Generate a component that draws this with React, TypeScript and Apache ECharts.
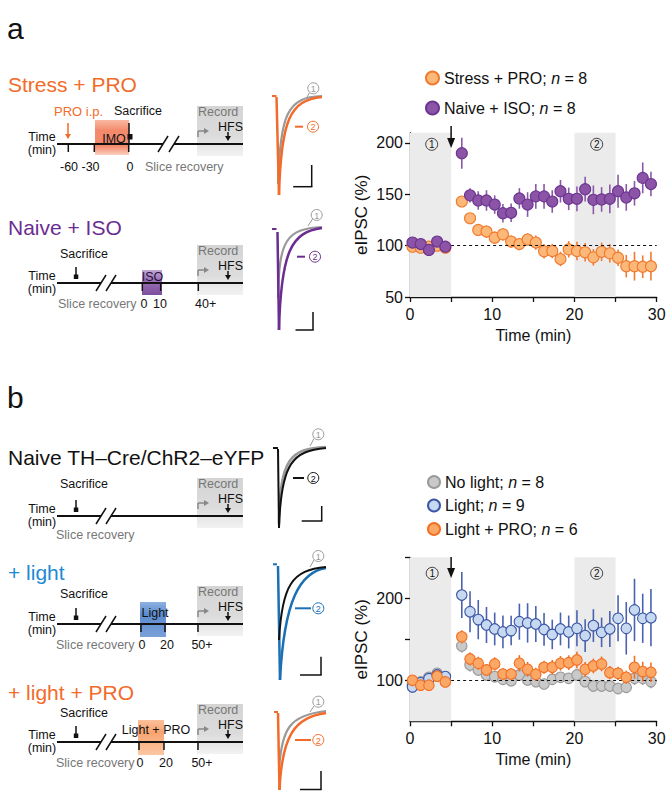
import React, { useEffect, useRef } from "react";
import * as echarts from "echarts";

const FONT = '"Liberation Sans", Arial, Helvetica, sans-serif';

// time (min) of each averaged point
const timeMin = [0.3, 1.3, 2.3, 3.3, 4.3, 6.3, 7.3, 8.3, 9.3, 10.3, 11.3, 12.3, 13.3, 14.3, 15.3, 16.3, 17.3, 18.3, 19.3, 20.3, 21.3, 22.3, 23.3, 24.3, 25.3, 26.3, 27.3, 28.3, 29.3];

// panel a
const namesA = ["Stress + PRO", "Naive + ISO"];
const nA = [8, 8];
const stressPro = [99, 98, 99, 100, 98, 143, 126.7, 115.3, 113.7, 107.8, 111, 104, 101.6, 106, 103, 94.5, 94.8, 87, 96.4, 94.8, 93.5, 88.6, 94, 92.5, 88.3, 80, 80, 79.5, 80];
const stressProErr = [3, 3, 3, 3, 3, 4, 5, 5, 6, 6, 6, 6, 6, 6, 7, 7, 7, 7, 8, 9, 9, 8, 9, 9, 8, 11, 14, 11, 14];
const naiveIso = [103, 101.6, 95.8, 104, 99, 190, 149, 144, 144, 140, 131.6, 132, 146, 140, 148, 148, 143, 153, 145.6, 145.6, 155, 144.6, 145, 145.6, 153, 147, 151, 166, 160];
const naiveIsoErr = [4, 4, 4, 4, 4, 15, 7, 9, 10, 9, 9, 9, 10, 12, 12, 12, 11, 11, 11, 12, 12, 14, 12, 14, 16, 13, 12, 15, 12];

// panel b
const namesB = ["No light", "Light", "Light + PRO"];
const nB = [8, 9, 6];
const noLight = [95, 98, 103.7, 108.5, 100, 141.9, 118.7, 112.6, 106.5, 104.5, 101.2, 99.6, 106.5, 100.4, 98.4, 95.5, 101.2, 103.7, 102.4, 106.5, 98.4, 93, 93, 93, 90, 91.5, 102.4, 102.4, 98.4];
const noLightErr = [4, 4, 4, 4, 4, 8, 8, 7, 7, 7, 6, 7, 7, 6, 6, 6, 6, 6, 6, 6, 6, 6, 7, 7, 7, 7, 8, 8, 8];
const light = [92, 97, 102, 106.5, 104.5, 204, 183.7, 174, 167.5, 162.6, 159, 160.6, 171.5, 170, 168.7, 162, 156, 162.6, 159, 163.4, 154.5, 166.7, 158.5, 162.6, 175.6, 163.4, 185.8, 175.6, 176.4];
const lightErr = [6, 5, 5, 5, 5, 28, 25, 24, 22, 20, 20, 18, 22, 24, 22, 20, 18, 20, 20, 22, 20, 20, 18, 22, 28, 32, 38, 30, 35];
const lightPro = [100, 94, 94, 105, 98, 153, 126, 120.7, 112.6, 120, 107.7, 107.7, 120.7, 113.4, 107.3, 115.9, 115.9, 120.7, 121.5, 124.8, 113.4, 117.5, 120, 109.3, 108.5, 103.7, 115.9, 110.6, 109.8];
const lightProErr = [4, 4, 4, 4, 4, 8, 8, 8, 7, 8, 7, 7, 10, 9, 8, 8, 9, 9, 9, 10, 9, 9, 9, 8, 8, 8, 14, 12, 12];

// axes
const xTickLabels = [0, 10, 20, 30];
const yTicksA = [50, 100, 150, 200];
const yTickLabelsA = [50, 100, 150, 200];
const yTicksB = [100, 150, 200, 250];
const yTickLabelsB = [100, 200];
const shadeWindows = [[0, 5], [20, 25]];
const hfsTime = 5;
const baseline = 100;

const ORANGE = "#f26b2b";
const PURPLE = "#6b2d90";
const BLUE = "#1f8ad3";
const GRAY = "#999999";

const styles: Record<string, { fill: string; border: string; err: string }> = {
  "Stress + PRO": { fill: "#fcb878", border: "#f07a30", err: "#f07a30" },
  "Naive + ISO": { fill: "#8c54a6", border: "#6b3590", err: "#8a5aa8" },
  "No light": { fill: "#c9c9c9", border: "#9a9a9a", err: "#9a9a9a" },
  "Light": { fill: "#c6d9f1", border: "#3b55a6", err: "#4a62b0" },
  "Light + PRO": { fill: "#fba766", border: "#f27024", err: "#f27024" },
};

function errSeries(name: string, vals: number[], errs: number[], g: number, z: number) {
  const color = styles[name].err;
  return {
    type: "custom",
    name: name + " SEM",
    xAxisIndex: g,
    yAxisIndex: g,
    silent: true,
    z,
    data: timeMin.map((t, i) => [t, vals[i] - errs[i], vals[i] + errs[i]]),
    encode: { x: 0, y: [1, 2] },
    renderItem: (_p: any, api: any) => {
      const a = api.coord([api.value(0), api.value(1)]);
      const b = api.coord([api.value(0), api.value(2)]);
      return {
        type: "line",
        shape: { x1: a[0], y1: a[1], x2: b[0], y2: b[1] },
        style: { stroke: color, lineWidth: 1.6 },
      };
    },
  };
}

function dotSeries(name: string, vals: number[], g: number, z: number, size: number) {
  const s = styles[name];
  return {
    type: "scatter",
    name,
    xAxisIndex: g,
    yAxisIndex: g,
    z,
    symbol: "circle",
    symbolSize: size,
    itemStyle: { color: s.fill, borderColor: s.border, borderWidth: 1.1, opacity: 1 },
    data: timeMin.map((t, i) => [t, vals[i]]),
  };
}

function markerSeries(g: number) {
  return [
    {
      type: "scatter",
      xAxisIndex: g,
      yAxisIndex: g,
      data: [],
      silent: true,
      z: 0,
      markArea: {
        silent: true,
        itemStyle: { color: "#ebebeb" },
        data: shadeWindows.map(([a, b]) => [{ xAxis: a }, { xAxis: b }]),
      },
    },
    {
      type: "scatter",
      xAxisIndex: g,
      yAxisIndex: g,
      data: [],
      silent: true,
      z: 1,
      markLine: {
        silent: true,
        symbol: ["none", "none"],
        label: { show: false },
        lineStyle: { color: "#111", type: [3, 3], width: 1 },
        data: [[{ coord: [hfsTime, baseline] }, { coord: [30, baseline] }]],
      },
    },
  ];
}

const axisText = { fontSize: 16, color: "#111", fontFamily: FONT };

function xAxis(g: number) {
  return {
    gridIndex: g,
    type: "value",
    min: 0,
    max: 30,
    interval: 5,
    name: "Time (min)",
    nameLocation: "middle",
    nameGap: 30,
    nameTextStyle: axisText,
    axisLine: { onZero: false, lineStyle: { color: "#111", width: 1.3 } },
    axisTick: { length: 5, lineStyle: { color: "#111", width: 1.3 } },
    axisLabel: { ...axisText, margin: 9, formatter: (v: number) => (xTickLabels.includes(v) ? String(v) : "") },
    splitLine: { show: false },
  };
}

function yAxis(g: number, min: number, max: number, ticks: number[], labels: number[]) {
  return {
    gridIndex: g,
    type: "value",
    min,
    max,
    interval: 50,
    name: "eIPSC (%)",
    nameLocation: "middle",
    nameGap: 40,
    nameTextStyle: { ...axisText, fontSize: 17 },
    axisLine: { show: true, onZero: false, lineStyle: { color: "#111", width: 1.3 } },
    axisTick: { show: true, length: 5, customValues: ticks, lineStyle: { color: "#111", width: 1.3 } },
    axisLabel: { ...axisText, margin: 7, customValues: labels },
    splitLine: { show: false },
  };
}

function legend(names: string[], ns: number[], left: number, top: number, gap: number, icon: number) {
  const map: Record<string, number> = {};
  names.forEach((n, i) => (map[n] = ns[i]));
  return {
    orient: "vertical",
    left,
    top,
    padding: 0,
    itemGap: gap,
    itemWidth: icon,
    itemHeight: icon,
    icon: "circle",
    data: names,
    selectedMode: false,
    formatter: (name: string) => `${name}; {i|n} = ${map[name]}`,
    textStyle: {
      fontSize: 16,
      color: "#111",
      fontFamily: FONT,
      rich: { i: { fontStyle: "italic", fontSize: 16, color: "#111", fontFamily: FONT } },
    },
  };
}

const option: any = {
  animation: false,
  backgroundColor: "#ffffff",
  grid: [
    { left: 410, top: 132.7, width: 246.7, height: 164.3 },
    { left: 410, top: 557.3, width: 246.7, height: 164 },
  ],
  xAxis: [xAxis(0), xAxis(1)],
  yAxis: [yAxis(0, 50, 210, yTicksA, yTickLabelsA), yAxis(1, 50, 250, yTicksB, yTickLabelsB)],
  legend: [legend(namesA, nA, 425, 70, 14, 13), legend(namesB, nB, 427, 474, 7.5, 12)],
  series: [
    ...markerSeries(0),
    errSeries("Stress + PRO", stressPro, stressProErr, 0, 2),
    dotSeries("Stress + PRO", stressPro, 0, 3, 11),
    errSeries("Naive + ISO", naiveIso, naiveIsoErr, 0, 4),
    dotSeries("Naive + ISO", naiveIso, 0, 5, 11),
    ...markerSeries(1),
    errSeries("No light", noLight, noLightErr, 1, 2),
    dotSeries("No light", noLight, 1, 3, 10.5),
    errSeries("Light", light, lightErr, 1, 4),
    dotSeries("Light", light, 1, 5, 10.5),
    errSeries("Light + PRO", lightPro, lightProErr, 1, 6),
    dotSeries("Light + PRO", lightPro, 1, 7, 10.5),
  ],
};

// ---------- graphic helpers ----------
const L = (x1: number, y1: number, x2: number, y2: number, stroke = "#111", lw = 1.5, z = 5) => ({
  type: "line", shape: { x1, y1, x2, y2 }, style: { stroke, lineWidth: lw }, z, silent: true,
});
const T = (x: number, y: number, text: string, o: any = {}) => ({
  type: "text", x, y, z: o.z || 7, silent: true,
  style: { text, fill: o.fill || "#111", fontSize: o.size || 12.5, fontFamily: FONT, align: o.align || "left", verticalAlign: "middle" },
});
const R = (x: number, y: number, w: number, h: number, fill: any, z = 1) => ({
  type: "rect", shape: { x, y, width: w, height: h }, style: { fill }, z, silent: true,
});
const P = (points: number[][], fill: string, z = 6) => ({ type: "polygon", shape: { points }, style: { fill }, z, silent: true });
const B = (x1: number, y1: number, cpx1: number, cpy1: number, cpx2: number, cpy2: number, x2: number, y2: number, stroke: string, lw = 2.3, z = 5) => ({
  type: "bezierCurve", shape: { x1, y1, x2, y2, cpx1, cpy1, cpx2, cpy2 }, style: { stroke, lineWidth: lw, fill: null }, z, silent: true,
});
const circled = (cx: number, cy: number, d: string, color: string) => [
  { type: "circle", shape: { cx, cy, r: 5.5 }, style: { stroke: color, fill: "#fff", lineWidth: 1 }, z: 8, silent: true },
  T(cx, cy + 0.5, d, { align: "center", size: 9, fill: color, z: 9 }),
];
const grad = (stops: [number, string][]) =>
  new echarts.graphic.LinearGradient(0, 0, 0, 1, stops.map(([offset, color]) => ({ offset, color })));
const downArrow = (x: number, y1: number, y2: number, color: string) => [
  L(x, y1, x, y2 - 4, color, 1.5),
  P([[x - 3, y2 - 5], [x + 3, y2 - 5], [x, y2]], color),
];
const bent = (yT: number) => [
  L(198, yT - 7, 198, yT - 13, "#888", 1.5),
  L(198, yT - 13, 204, yT - 13, "#888", 1.5),
  P([[204, yT - 16], [209, yT - 13], [204, yT - 10]], "#888"),
];
const record = (yT: number) => [
  R(197, yT - 38, 46, 50, grad([[0, "#d4d4d4"], [0.6, "#dcdcdc"], [1, "#f2f2f2"]])),
  T(198, yT - 32, "Record", { fill: "#777" }),
  T(243, yT - 17, "HFS", { align: "right" }),
  ...downArrow(228, yT - 12, yT - 3, "#111"),
  ...bent(yT),
];
const timeline = (yT: number, c1: number, c2: number) => [
  L(57, yT, c1, yT, "#111", 2),
  L(c2, yT, 243, yT, "#111", 2),
  L(c1 - 5, yT + 8, c1 + 5, yT - 8, "#111", 1.5),
  L(c2 - 5, yT + 8, c2 + 5, yT - 8, "#111", 1.5),
  T(42, yT - 7, "Time", { align: "center" }),
  T(42, yT + 6, "(min)", { align: "center" }),
];
const tick = (x: number, yT: number) => L(x, yT, x, yT + 8, "#111", 1.5);
const sacrifice = (yT: number, ty: number) => [
  T(84, ty, "Sacrifice", { align: "center" }),
  L(76, yT - 16, 76, yT - 6, "#111", 1.5),
  R(73.8, yT - 8.5, 4.5, 4.5, "#111", 6),
];
const scaleBar = (x: number, y1: number, y2: number, w: number) => [
  L(x, y1, x, y2, "#111", 1.5),
  L(x - w, y2, x + 0.7, y2, "#111", 1.5),
];

function schematics(): any[] {
  const out: any[] = [];
  out.push(T(7, 28, "a", { size: 30 }), T(7, 397, "b", { size: 30 }));

  // ---- a1: Stress + PRO ----
  {
    const yT = 144;
    out.push(T(8, 84, "Stress + PRO", { size: 21, fill: ORANGE }));
    out.push(T(54, 111, "PRO i.p.", { fill: ORANGE, size: 13 }), ...downArrow(68, 123, 139, ORANGE));
    out.push(T(138, 111, "Sacrifice", { align: "center" }), L(129, 123, 129, yT, "#111", 1.5), R(127.5, 134, 5, 5.5, "#111", 6));
    out.push(R(95, 120, 34, 35, grad([[0, "#f9b9a3"], [0.3, "#f48a6c"], [0.75, "#f48a6c"], [1, "#fbd0c2"]])));
    out.push(T(114, 139, "IMO", { align: "center" }));
    out.push(...timeline(yT, 163, 174));
    out.push(tick(68.3, yT), tick(94.3, yT), tick(128.7, yT));
    out.push(T(69, 167, "-60", { align: "center" }), T(90.5, 167, "-30", { align: "center" }), T(130, 167, "0", { align: "center" }));
    out.push(T(145, 167, "Slice recovery", { fill: "#777" }));
    out.push(...record(yT));
    out.push(L(272, 96, 276.5, 96, ORANGE, 2));
    out.push(B(278, 184, 280, 115, 287, 97, 322, 96, GRAY, 2.2, 4));
    out.push(L(276.5, 97, 279, 195, ORANGE, 2.5), B(279, 195, 281, 120, 290, 100, 322, 97, ORANGE, 2.5));
    out.push(...circled(313.3, 88.3, "1", GRAY), L(309.5, 92.5, 306, 99, GRAY, 1));
    out.push(L(295, 126.7, 303, 126.7, ORANGE, 2), ...circled(313, 126.7, "2", ORANGE));
    out.push(...scaleBar(311.7, 165, 186.7, 18.5));
  }
  // ---- a2: Naive + ISO ----
  {
    const yT = 283;
    out.push(T(8, 227, "Naive + ISO", { size: 21, fill: PURPLE }));
    out.push(...sacrifice(yT, 254));
    out.push(R(142, 270, 20, 25, grad([[0, "#c2a9d4"], [0.4, "#9a72b6"], [1, "#7d4e9d"]])));
    out.push(T(152.5, 277, "ISO", { align: "center", fill: "#2a1040" }));
    out.push(...timeline(yT, 101, 111));
    out.push(tick(142.3, yT), tick(160.7, yT), tick(198.3, yT));
    out.push(T(58, 304, "Slice recovery", { fill: "#777" }), T(144, 304, "0", { align: "center" }), T(160, 304, "10", { align: "center" }), T(195, 304, "40+"));
    out.push(...record(yT));
    out.push(L(272, 229, 276.5, 229, PURPLE, 2));
    out.push(B(278, 298, 279, 240, 286, 229, 322, 227, GRAY, 2.2, 4));
    out.push(L(277.5, 232, 279, 330, PURPLE, 2.5), B(279, 330, 281, 250, 292, 232, 322, 228, PURPLE, 2.5));
    out.push(...circled(316.7, 215, "1", GRAY), L(312.5, 219, 308, 226, GRAY, 1));
    out.push(L(297, 256.7, 305, 256.7, PURPLE, 2), ...circled(315, 256.7, "2", PURPLE));
    out.push(...scaleBar(313, 312, 330, 17.5));
  }
  // ---- b1: Naive TH-Cre/ChR2-eYFP ----
  {
    const yT = 516;
    out.push(T(8, 457, "Naive TH–Cre/ChR2–eYFP", { size: 21 }));
    out.push(...sacrifice(yT, 484));
    out.push(...timeline(yT, 101, 111));
    out.push(T(56, 535, "Slice recovery", { fill: "#777" }));
    out.push(...record(yT));
    out.push(L(273, 448, 278, 448, "#111", 2));
    out.push(B(279, 524, 280, 458, 290, 449, 326, 447, GRAY, 2.6, 4));
    out.push(L(278, 449, 279, 528, "#111", 2), B(279, 528, 281, 462, 293, 451, 326, 448, "#111", 2));
    out.push(...circled(318.3, 434.3, "1", GRAY), L(314, 438.5, 310, 446, GRAY, 1));
    out.push(L(293, 478, 304, 478, "#111", 2), ...circled(313.3, 478, "2", "#111"));
    out.push(...scaleBar(321.7, 506, 521, 20));
  }
  // ---- b2: + light ----
  {
    const yT = 624;
    out.push(T(8, 572, "+ light", { size: 21, fill: BLUE }));
    out.push(...sacrifice(yT, 594));
    out.push(R(140, 602, 26, 35, grad([[0, "#8fb2e0"], [0.35, "#5b8bd0"], [1, "#7aa0d8"]])));
    out.push(T(155, 613, "Light", { align: "center" }));
    out.push(...timeline(yT, 101, 111));
    out.push(tick(141, yT), tick(165, yT), tick(198, yT));
    out.push(T(56, 645, "Slice recovery", { fill: "#777" }), T(142, 645, "0", { align: "center" }), T(167, 645, "20", { align: "center" }), T(202, 645, "50+", { align: "center" }));
    out.push(...record(yT));
    out.push(L(273, 564.3, 277, 564.3, "#1a6fb5", 2));
    out.push(B(279, 640, 282, 585, 292, 570, 326, 567, "#111", 2, 6));
    out.push(L(278, 566, 280, 680, "#1a6fb5", 2.5), B(280, 680, 284, 600, 300, 572, 326, 568, "#1a6fb5", 2.5));
    out.push(...circled(318.3, 556, "1", GRAY), L(314, 560, 310, 567, GRAY, 1));
    out.push(L(295, 608.3, 311, 608.3, "#1a6fb5", 2), ...circled(318.3, 608.3, "2", "#1a6fb5"));
    out.push(...scaleBar(321, 656.7, 675, 21));
  }
  // ---- b3: + light + PRO ----
  {
    const yT = 742;
    out.push(T(8, 692, "+ light + PRO", { size: 21, fill: ORANGE }));
    out.push(...sacrifice(yT, 713));
    out.push(R(138, 720, 26, 35, grad([[0, "#fbc09a"], [0.35, "#f9a470"], [1, "#fbc7a4"]])));
    out.push(T(156, 730, "Light + PRO", { align: "center" }));
    out.push(...timeline(yT, 101, 111));
    out.push(tick(139, yT), tick(164, yT), tick(198, yT));
    out.push(T(56, 763, "Slice recovery", { fill: "#777" }), T(140, 763, "0", { align: "center" }), T(166, 763, "20", { align: "center" }), T(202, 763, "50+", { align: "center" }));
    out.push(...record(yT));
    out.push(L(274, 712, 278, 712, ORANGE, 2));
    out.push(B(279, 772, 281, 728, 290, 715, 326, 711, GRAY, 2.2, 4));
    out.push(L(278, 713, 279.5, 790, ORANGE, 2.5), B(279.5, 790, 282, 735, 295, 717, 326, 713, ORANGE, 2.5));
    out.push(...circled(318.3, 701.7, "1", GRAY), L(314, 706, 310, 712, GRAY, 1));
    out.push(L(295, 740, 311, 740, ORANGE, 2), ...circled(318.3, 740, "2", ORANGE));
    out.push(...scaleBar(321, 771, 789.5, 21));
  }
  return out;
}

export default function App() {
  const ref = useRef<HTMLDivElement>(null);
  useEffect(() => {
    if (!ref.current) return;
    const chart = echarts.init(ref.current, null, { renderer: "svg" });
    chart.setOption(option);
    const px = (g: number, x: number, y: number) => chart.convertToPixel({ gridIndex: g } as any, [x, y]) as number[];
    const ann: any[] = [];
    const arrowA = [px(0, hfsTime, 216.6), px(0, hfsTime, 195)];
    const arrowB = [px(1, hfsTime, 250.5), px(1, hfsTime, 224.8)];
    [arrowA, arrowB].forEach(([a, b]) => {
      ann.push(L(a[0], a[1], b[0], b[1] - 8, "#111", 1.5, 20));
      ann.push({ ...P([[b[0] - 4, b[1] - 10], [b[0] + 4, b[1] - 10], [b[0], b[1]]], "#111"), z: 20 });
    });
    const labA = [px(0, 2.64, 198.7), px(0, 22.7, 198.7)];
    const labB = [px(1, 2.7, 230.5), px(1, 22.7, 230.5)];
    [labA, labB].forEach((pair) => {
      pair.forEach((p, i) => {
        ann.push(
          { type: "circle", shape: { cx: p[0], cy: p[1], r: 6 }, style: { stroke: "#111", fill: "none", lineWidth: 0.8 }, z: 20, silent: true },
          { ...T(p[0], p[1] + 0.5, String(i + 1), { align: "center", size: 10 }), z: 21 }
        );
      });
    });
    chart.setOption({ graphic: [...schematics(), ...ann] });
    return () => chart.dispose();
  }, []);
  return (
    <div
      ref={ref}
      style={{ position: "fixed", left: 0, top: 0, width: 672, height: 799, background: "#fff" }}
    />
  );
}
